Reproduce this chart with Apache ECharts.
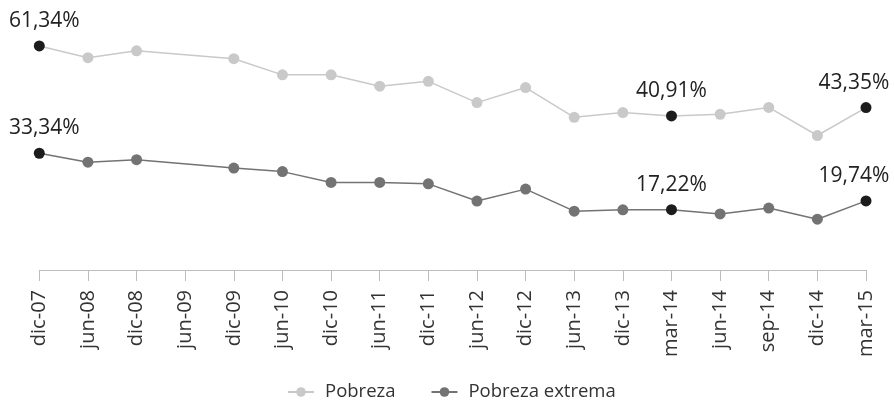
<!DOCTYPE html>
<html>
<head>
<meta charset="utf-8">
<script src="https://cdn.jsdelivr.net/npm/echarts@6/dist/echarts.min.js"></script>
<style>
html,body{margin:0;padding:0;background:#fff;}
#chart{width:894px;height:401px;}
</style>
</head>
<body>
<div id="chart"></div>
<script>
const categories = ['dic-07','jun-08','dic-08','jun-09','dic-09','jun-10','dic-10','jun-11','dic-11','jun-12','dic-12','jun-13','dic-13','mar-14','jun-14','sep-14','dic-14','mar-15'];
const pobreza = [61.34, 57.9, 59.9, null, 57.6, 52.9, 52.9, 49.6, 51.0, 44.8, 49.2, 40.5, 41.9, 40.91, 41.4, 43.4, 35.2, 43.35];
const pobrezaExtrema = [33.34, 30.8, 31.5, null, 29.1, 28.1, 25.0, 25.0, 24.6, 19.7, 23.1, 16.8, 17.2, 17.22, 16.0, 17.7, 14.5, 19.74];
const highlighted = [0, 13, 17];

const FONT = '"Open Sans", sans-serif';

function buildData(values) {
  return values.map((v, i) => {
    if (v === null) return null;
    if (highlighted.indexOf(i) === -1) return v;
    let offset = [0, 0];
    if (i === 0) offset = [5, 0];
    if (i === categories.length - 1) offset = [-12, 0];
    return {
      value: v,
      itemStyle: { color: '#1c1c1c' },
      label: {
        show: true,
        position: 'top',
        distance: 9,
        offset: offset,
        formatter: v.toFixed(2).replace('.', ',') + '%',
        fontSize: 21,
        fontFamily: FONT,
        color: '#222'
      }
    };
  });
}

const chart = echarts.init(document.getElementById('chart'));
chart.setOption({
  animation: false,
  backgroundColor: '#fff',
  grid: { left: 39.3, right: 28, top: 20, bottom: 131 },
  legend: {
    top: 372,
    left: 282,
    itemWidth: 26,
    itemHeight: 12,
    itemGap: 35,
    textStyle: { fontSize: 18.5, lineHeight: 22, fontFamily: FONT, color: '#333', padding: [8, 0, 0, 6] },
    data: ['Pobreza', 'Pobreza extrema']
  },
  xAxis: {
    type: 'category',
    data: categories,
    boundaryGap: false,
    axisLine: { onZero: false, lineStyle: { color: '#bdbdbd', width: 1 } },
    axisTick: { show: true, length: 11, lineStyle: { color: '#bdbdbd' } },
    axisLabel: { rotate: 90, interval: 0, margin: 20, fontSize: 20, fontFamily: FONT, color: '#333' }
  },
  yAxis: [
    { type: 'value', min: -4.03, max: 68.9, show: false, splitLine: { show: false } },
    { type: 'value', min: 0, max: 71.4, show: false, splitLine: { show: false } }
  ],
  series: [
    {
      name: 'Pobreza',
      type: 'line',
      yAxisIndex: 0,
      data: buildData(pobreza),
      connectNulls: true,
      symbol: 'circle',
      symbolSize: 11,
      lineStyle: { color: '#c9c9c9', width: 1.5 },
      itemStyle: { color: '#c9c9c9' }
    },
    {
      name: 'Pobreza extrema',
      type: 'line',
      yAxisIndex: 1,
      data: buildData(pobrezaExtrema),
      connectNulls: true,
      symbol: 'circle',
      symbolSize: 11,
      lineStyle: { color: '#737373', width: 1.5 },
      itemStyle: { color: '#737373' }
    }
  ]
});
</script>
</body>
</html>
